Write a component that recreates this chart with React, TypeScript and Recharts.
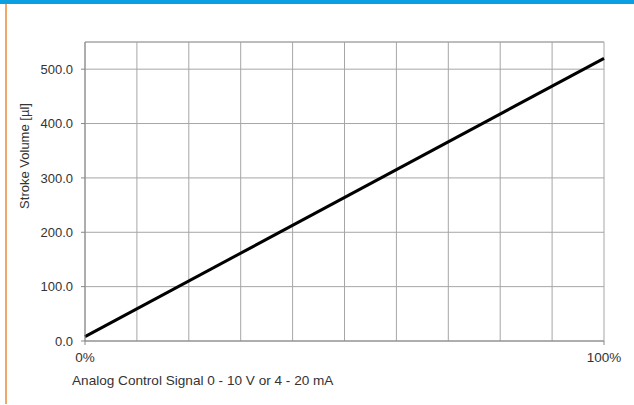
import { LineChart, Line, XAxis, YAxis, CartesianGrid, ReferenceLine, Label } from 'recharts';

const signalPct = [0, 100];
const strokeVolume = [8, 520];
const gridTicks = [0, 10, 20, 30, 40, 50, 60, 70, 80, 90, 100];
const xLabelTicks = [0, 100];
const yTicks = [0, 100, 200, 300, 400, 500];

const data = signalPct.map((s, i) => ({ signal: s, volume: strokeVolume[i] }));

const font = '"Liberation Sans", Arial, sans-serif';
const textColor = '#333';

export default function App() {
  return (
    <div style={{ position: 'absolute', left: 0, top: 0, width: 634, height: 405, background: '#fff', fontFamily: font }}>
      <div style={{ position: 'absolute', left: 0, top: 0, width: 634, height: 4, background: '#0a9fe0' }} />
      <div style={{ position: 'absolute', left: 5, top: 4, width: 1.5, height: 400, background: '#eea868' }} />
      <LineChart width={634} height={405} data={data} margin={{ top: 42, right: 30, left: 0, bottom: 0 }}>
        <CartesianGrid xAxisId="grid" stroke="#a6a6a6" strokeWidth={1} />
        <XAxis xAxisId="grid" dataKey="signal" type="number" domain={[0, 100]} ticks={gridTicks} height={0} hide />
        <XAxis
          xAxisId="main"
          dataKey="signal"
          type="number"
          domain={[0, 100]}
          ticks={xLabelTicks}
          tickFormatter={(v: number) => `${v}%`}
          height={64}
          tickSize={4}
          tickMargin={7}
          stroke="#888"
          tick={{ fontSize: 13.5, fill: textColor, fontFamily: font }}
        >
          <Label
            content={() => (
              <text x={72} y={385} fontSize={13.6} fill={textColor} fontFamily={font}>
                Analog Control Signal 0 - 10 V or 4 - 20 mA
              </text>
            )}
          />
        </XAxis>
        <YAxis
          domain={[0, 550]}
          ticks={yTicks}
          width={85}
          tickSize={4}
          tickMargin={8}
          stroke="#888"
          tickFormatter={(v: number) => v.toFixed(1)}
          tick={{ fontSize: 13, fill: textColor, fontFamily: font }}
        >
          <Label
            content={() => (
              <text
                x={29}
                y={156}
                transform="rotate(-90 29 156)"
                textAnchor="middle"
                fontSize={13}
                fill={textColor}
                fontFamily={font}
              >
                Stroke Volume [µl]
              </text>
            )}
          />
        </YAxis>
        <ReferenceLine xAxisId="main" y={550} stroke="#a6a6a6" />
        <Line
          xAxisId="main"
          dataKey="volume"
          stroke="#000"
          strokeWidth={3}
          dot={false}
          type="linear"
          isAnimationActive={false}
        />
      </LineChart>
    </div>
  );
}
